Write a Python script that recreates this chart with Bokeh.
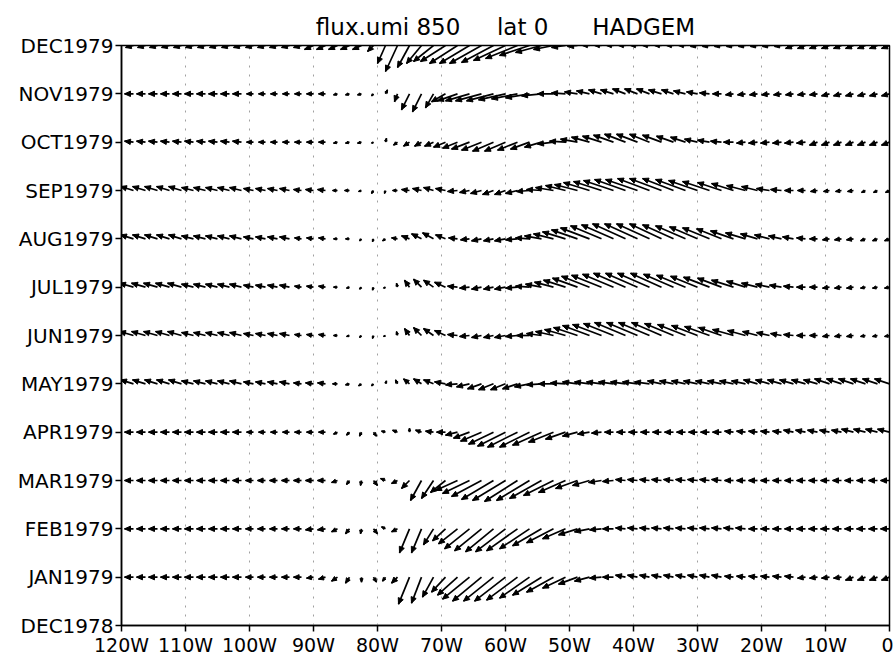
import math
from bokeh.plotting import figure
from bokeh.models import FixedTicker, Range1d
from bokeh.embed import file_html
from bokeh.resources import INLINE

# ---------------- data ----------------
TITLE = "flux.umi 850\u00a0\u00a0\u00a0\u00a0\u00a0lat 0\u00a0\u00a0\u00a0\u00a0\u00a0\u00a0HADGEM"

LON = [-120, -118.125, -116.25, -114.375, -112.5, -110.625, -108.75, -106.875, -105,
       -103.125, -101.25, -99.375, -97.5, -95.625, -93.75, -91.875, -90, -88.125,
       -86.25, -84.375, -82.5, -80.625, -78.75, -76.875, -75, -73.125, -71.25,
       -69.375, -67.5, -65.625, -63.75, -61.875, -60, -58.125, -56.25, -54.375,
       -52.5, -50.625, -48.75, -46.875, -45, -43.125, -41.25, -39.375, -37.5,
       -35.625, -33.75, -31.875, -30, -28.125, -26.25, -24.375, -22.5, -20.625,
       -18.75, -16.875, -15, -13.125, -11.25, -9.375, -7.5, -5.625, -3.75, -1.875, 0]

MONTH_POS = [0, 1, 2, 3, 4, 5, 6, 7, 8, 9, 10, 11, 12]
MONTH_LABELS = ["DEC1978", "JAN1979", "FEB1979", "MAR1979", "APR1979", "MAY1979",
                "JUN1979", "JUL1979", "AUG1979", "SEP1979", "OCT1979", "NOV1979", "DEC1979"]

XTICKS = [-120, -110, -100, -90, -80, -70, -60, -50, -40, -30, -20, -10, 0]
XLABELS = ["120W", "110W", "100W", "90W", "80W", "70W", "60W", "50W", "40W",
           "30W", "20W", "10W", "0"]

U_JAN = [-9,-9,-9,-9,-9,-9,-9,-9,-9,-9,-9,-8,-8,
         -8,-8,-8,-7,-7,-6,-4,0,3,-3,-6,-11,-10,
         -11,-14,-20,-27,-29,-30,-31,-31,-30,-29,-27,-23,-19,
         -15,-12,-11,-10,-10,-10,-10,-10,-10,-10,-10,-10,-9,
         -9,-9,-9,-9,-9,-8,-8,-8,-8,-8,-8,-8,-8]
V_JAN = [0,0,0,0,0,0,0,0,0,0,0,0,0,
         0,0,0,-1,-2,-4,-6,-5,-5,-4,-6,-27,-26,
         -20,-15,-18,-22,-24,-24,-24,-23,-21,-18,-15,-11,-7,
         -4,-1,0,2,2,2,2,2,2,2,2,2,1,
         1,1,1,1,1,-1,-1,-1,-1,-3,-3,-3,-3]

U_FEB = [-9,-9,-9,-9,-9,-9,-9,-9,-9,-9,-9,-8,-8,
         -8,-8,-8,-8,-8,-6,-4,-1,4,-4,-6,-10,-10,
         -10,-13,-19,-25,-27,-28,-30,-31,-30,-29,-27,-23,-19,
         -15,-12,-11,-10,-10,-10,-10,-10,-10,-10,-10,-10,-10,
         -10,-9,-9,-9,-9,-9,-9,-9,-9,-9,-9,-9,-9]
V_FEB = [0,0,0,0,0,0,0,0,0,0,0,0,0,
         0,0,0,-1,-1,-3,-5,-5,-5,2,-3,-24,-24,
         -16,-12,-15,-20,-22,-23,-23,-22,-20,-17,-14,-10,-6,
         -3,-1,0,1,1,1,1,1,1,1,1,1,1,
         1,0,0,0,0,0,0,0,0,0,0,0,0]

U_MAR = [-9,-9,-9,-9,-9,-9,-9,-9,-9,-9,-9,-8,-8,
         -8,-8,-8,-8,-8,-6,-3,-1,4,-5,-6,-8,-11,
         -12,-15,-22,-27,-30,-32,-33,-33,-33,-32,-30,-27,-22,
         -17,-13,-11,-10,-10,-10,-10,-10,-10,-10,-10,-10,-9,
         -9,-9,-9,-9,-9,-9,-9,-9,-9,-9,-9,-9,-9]
V_MAR = [0,0,0,0,0,0,0,0,0,0,0,0,0,
         0,0,0,0,0,-2,-4,-5,-5,2,-3,-8,-20,
         -18,-12,-10,-13,-16,-19,-20,-21,-20,-18,-15,-12,-8,
         -5,-2,-1,1,1,1,1,1,1,1,1,1,0,
         0,0,0,0,0,0,0,0,0,0,0,0,0]

U_APR = [-9,-9,-9,-9,-9,-9,-9,-9,-9,-9,-9,-7,-7,
         -7,-7,-7,-7,-7,-4,-3,-2,3,-4,-5,0,-6,
         -8,-9,-12,-16,-21,-25,-28,-30,-30,-29,-25,-20,-15,
         -12,-10,-9,-9,-9,-9,-9,-9,-9,-9,-9,-9,-9,
         -9,-9,-9,-9,-10,-10,-10,-10,-10,-12,-12,-12,-12]
V_APR = [0,0,0,0,0,0,0,0,0,0,0,0,0,
         0,0,0,0,0,-2,-3,-4,-4,1,2,4,2,
         1,0,-3,-6,-9,-12,-14,-15,-15,-13,-10,-7,-4,
         -2,-1,0,0,0,0,0,0,0,0,0,0,1,
         1,1,1,1,2,2,2,2,2,3,3,3,3]

U_MAY = [-13,-13,-13,-13,-13,-13,-12,-12,-12,-12,-12,-10,-10,
         -10,-10,-8,-8,-8,-5,-4,-3,-2,1,-2,-6,-8,
         -10,-11,-12,-13,-14,-15,-15,-15,-15,-15,-15,-15,-15,
         -15,-15,-15,-15,-15,-15,-14,-14,-14,-14,-14,-14,-14,
         -14,-14,-14,-14,-14,-14,-14,-15,-15,-15,-15,-15,-15]
V_MAY = [4,4,4,4,4,4,3,3,3,3,3,2,2,
         2,2,1,1,1,0,-1,-2,-2,3,4,5,5,
         4,2,-1,-3,-5,-6,-6,-5,-3,-1,0,1,2,
         2,2,2,2,2,2,3,3,3,3,3,3,3,
         3,4,4,4,4,4,4,5,5,5,5,5,5]

U_JUN = [-14,-14,-14,-14,-14,-14,-12,-12,-12,-12,-12,-10,-10,
         -10,-10,-7,-7,-7,-4,-3,-2,-1,-2,-1,-5,-8,
         -10,-11,-10,-10,-10,-10,-11,-12,-13,-15,-18,-21,-24,
         -27,-29,-30,-31,-31,-31,-30,-29,-28,-26,-25,-23,-21,
         -18,-15,-13,-11,-10,-9,-8,-7,-7,-7,-5,-5,-5]
V_JUN = [4,4,4,4,4,4,3,3,3,3,3,2,2,
         2,2,1,1,1,0,-1,-2,-3,-1,4,7,8,
         7,5,1,-1,-2,-2,-2,-1,0,2,4,6,8,
         10,11,12,13,13,13,13,12,11,10,9,8,6,
         5,4,3,2,1,0,0,-1,-1,-1,-1,-1,-1]

U_JUL = [-14,-14,-14,-14,-14,-14,-12,-12,-12,-12,-12,-10,-10,
         -10,-10,-7,-7,-7,-4,-3,-2,-1,-2,-1,-5,-8,
         -10,-11,-10,-10,-10,-10,-11,-12,-14,-16,-19,-22,-25,
         -28,-30,-31,-32,-32,-32,-31,-30,-29,-27,-26,-24,-22,
         -19,-16,-14,-12,-10,-9,-8,-7,-7,-7,-5,-5,-5]
V_JUL = [4,4,4,4,4,4,3,3,3,3,3,2,2,
         2,2,1,1,1,0,-1,-2,-3,-1,4,7,8,
         7,5,1,-1,-2,-2,-2,-1,1,3,5,7,9,
         11,12,13,14,14,14,14,13,12,11,10,9,7,
         6,4,3,2,1,0,0,-1,-1,-1,-1,-1,-1]

U_AUG = [-13,-13,-13,-13,-13,-13,-12,-12,-12,-12,-12,-10,-10,
         -10,-10,-7,-7,-7,-4,-4,-2,-1,-3,-6,-8,-10,
         -11,-10,-9,-9,-10,-10,-11,-12,-14,-17,-20,-23,-26,
         -29,-31,-32,-33,-33,-33,-32,-31,-30,-28,-27,-25,-23,
         -20,-17,-15,-13,-11,-9,-8,-7,-7,-7,-5,-5,-5]
V_AUG = [4,4,4,4,4,4,3,3,3,3,3,2,2,
         2,2,1,1,1,0,0,-2,-3,-2,1,3,5,
         6,4,1,-1,-2,-2,-2,-1,1,3,5,7,9,
         11,13,14,15,15,15,15,14,13,12,11,10,8,
         6,5,4,3,2,1,0,-1,-1,-1,-2,-2,-2]

U_SEP = [-13,-13,-13,-13,-13,-13,-12,-12,-12,-12,-12,-10,-10,
         -10,-10,-8,-8,-8,-5,-5,-3,-2,-1,-5,-8,-9,
         -10,-10,-10,-10,-11,-11,-11,-12,-13,-15,-18,-20,-23,
         -26,-28,-30,-31,-32,-32,-32,-31,-30,-29,-27,-24,-22,
         -19,-16,-13,-11,-9,-8,-7,-6,-6,-6,-4,-4,-4]
V_SEP = [4,4,4,4,4,4,3,3,3,3,3,2,2,
         2,2,1,1,1,0,0,-1,-3,-3,0,1,2,
         3,2,-1,-2,-3,-4,-4,-3,-1,1,3,5,6,
         8,9,10,11,11,12,12,12,11,10,9,8,7,
         5,4,2,1,0,0,-1,-1,-1,-1,-2,-2,-2]

U_OCT = [-9,-9,-9,-9,-9,-9,-9,-9,-9,-9,-9,-7,-7,
         -7,-7,-7,-7,-7,-4,-4,-4,-2,1,-4,-6,-7,
         -9,-12,-15,-18,-20,-21,-21,-20,-19,-17,-16,-16,-17,
         -18,-19,-20,-21,-21,-20,-19,-17,-15,-13,-12,-11,-10,
         -9,-9,-9,-9,-9,-9,-8,-8,-8,-8,-8,-8,-8]
V_OCT = [1,1,1,1,1,1,1,1,1,1,1,0,0,
         0,0,0,0,0,-1,-1,-1,-1,4,-3,-4,-4,
         -4,-5,-6,-7,-8,-9,-9,-8,-7,-5,-2,1,3,
         5,6,7,8,8,8,7,6,5,3,2,1,0,
         -1,-1,-1,-1,-1,-1,-3,-3,-3,-3,-3,-3,-3]

U_NOV = [-9,-9,-9,-9,-9,-9,-9,-9,-9,-9,-9,-7,-7,
         -7,-7,-7,-7,-7,-4,-4,-4,-2,2,-3,-8,-9,
         -8,-14,-20,-24,-26,-27,-27,-26,-24,-20,-16,-14,-13,
         -13,-13,-13,-13,-13,-13,-13,-12,-12,-11,-10,-9,-8,
         -8,-8,-8,-8,-8,-8,-8,-8,-8,-8,-8,-8,-8]
V_NOV = [0,0,0,0,0,0,0,0,0,0,0,0,0,
         0,0,0,0,0,-1,-1,-1,-2,4,-8,-16,-18,
         -14,-8,-7,-7,-7,-7,-6,-5,-4,-2,0,1,2,
         3,4,4,5,5,5,4,4,3,2,1,0,-1,
         -1,-1,-1,-1,-1,-1,-1,-2,-2,-2,-2,-2,-2]

U_DEC = [-8,-8,-8,-8,-8,-8,-8,-8,-8,-8,-8,-8,-8,
         -8,-8,-8,-9,-9,-9,-9,-9,-6,-8,-12,-12,-15,
         -20,-25,-28,-30,-32,-32,-32,-32,-30,-26,-20,-14,-10,
         -7,-7,-7,-7,-7,-7,-7,-7,-7,-7,-7,-7,-7,
         -7,-7,-7,-7,-8,-8,-8,-8,-8,-8,-8,-8,-8]
V_DEC = [-2,-2,-2,-2,-2,-2,-2,-2,-2,-2,-2,-2,-2,
         -2,-2,-2,-4,-4,-4,-4,-4,-6,-18,-26,-22,-18,
         -16,-16,-18,-18,-18,-17,-15,-13,-10,-7,-4,-2,-1,
         0,0,0,0,0,0,0,0,0,-1,-1,-1,-1,
         -1,-1,-1,-1,-3,-3,-3,-3,-3,-3,-3,-3,-3]

ROWS = [(1, U_JAN, V_JAN), (2, U_FEB, V_FEB), (3, U_MAR, V_MAR), (4, U_APR, V_APR),
        (5, U_MAY, V_MAY), (6, U_JUN, V_JUN), (7, U_JUL, V_JUL), (8, U_AUG, V_AUG),
        (9, U_SEP, V_SEP), (10, U_OCT, V_OCT), (11, U_NOV, V_NOV), (12, U_DEC, V_DEC)]

# ---------------- figure ----------------
FRAME_W, FRAME_H = 768, 580
X0, X1, Y0, Y1 = -120, 0, 0, 12
KX = FRAME_W / (X1 - X0)   # px per degree
KY = FRAME_H / (Y1 - Y0)   # px per month
PX_PER_UNIT = 1.0

FONT = "DejaVu Sans"

p = figure(frame_width=FRAME_W, frame_height=FRAME_H,
           x_range=Range1d(X0, X1), y_range=Range1d(Y0, Y1),
           output_backend="svg", toolbar_location=None,
           min_border_left=121, min_border_right=4,
           min_border_top=45, min_border_bottom=41,
           background_fill_color="white", border_fill_color="white")

p.title.text = TITLE
p.title.align = "center"
p.title.text_font = FONT
p.title.text_font_size = "23px"
p.title.text_font_style = "normal"
p.title.text_color = "black"
p.title.standoff = 12

p.outline_line_color = "black"
p.outline_line_width = 1.5
p.outline_line_alpha = 1.0

# axes
p.xaxis.ticker = FixedTicker(ticks=XTICKS)
p.xaxis.major_label_overrides = {t: l for t, l in zip(XTICKS, XLABELS)}
p.yaxis.ticker = FixedTicker(ticks=MONTH_POS)
p.yaxis.major_label_overrides = {t: l for t, l in zip(MONTH_POS, MONTH_LABELS)}
for ax in (p.xaxis[0], p.yaxis[0]):
    ax.axis_line_color = "black"
    ax.axis_line_width = 1.5
    ax.major_tick_line_color = "black"
    ax.major_tick_line_width = 1.5
    ax.major_tick_in = 0
    ax.major_tick_out = 6
    ax.minor_tick_line_color = None
    ax.major_label_text_font = FONT
    ax.major_label_text_color = "black"
p.xaxis.major_label_text_font_size = "19px"
p.yaxis.major_label_text_font_size = "20px"
p.xaxis.major_label_standoff = 2
p.yaxis.major_label_standoff = 2

p.xgrid.ticker = FixedTicker(ticks=XTICKS)
p.xgrid.grid_line_color = "#a0a0a0"
p.xgrid.grid_line_dash = "2 7"
p.xgrid.grid_line_width = 1
p.ygrid.visible = False

# vectors
sx0, sy0, sx1, sy1, hx, hy = [], [], [], [], [], []
for yrow, U, V in ROWS:
    assert len(U) == len(LON) == len(V), (yrow, len(U), len(V))
    for lon, u, v in zip(LON, U, V):
        dx = u * PX_PER_UNIT
        dy = v * PX_PER_UNIT
        L = math.hypot(dx, dy)
        if L < 0.5:
            continue
        ex = lon + dx / KX
        ey = yrow + dy / KY
        sx0.append(lon); sy0.append(yrow); sx1.append(ex); sy1.append(ey)
        ux, uy = dx / L, dy / L
        h = min(6.0, 0.7 * L)
        w = h * 0.45
        bx, by = dx - h * ux, dy - h * uy
        lx, ly = bx - w * uy, by + w * ux
        rx, ry = bx + w * uy, by - w * ux
        hx.append([ex, lon + lx / KX, lon + rx / KX])
        hy.append([ey, yrow + ly / KY, yrow + ry / KY])

p.segment(x0=sx0, y0=sy0, x1=sx1, y1=sy1, line_color="black", line_width=1.7)
p.patches(xs=hx, ys=hy, fill_color="black", line_color="black", line_width=1.0)

open("out.html", "w").write(file_html(p, INLINE))
